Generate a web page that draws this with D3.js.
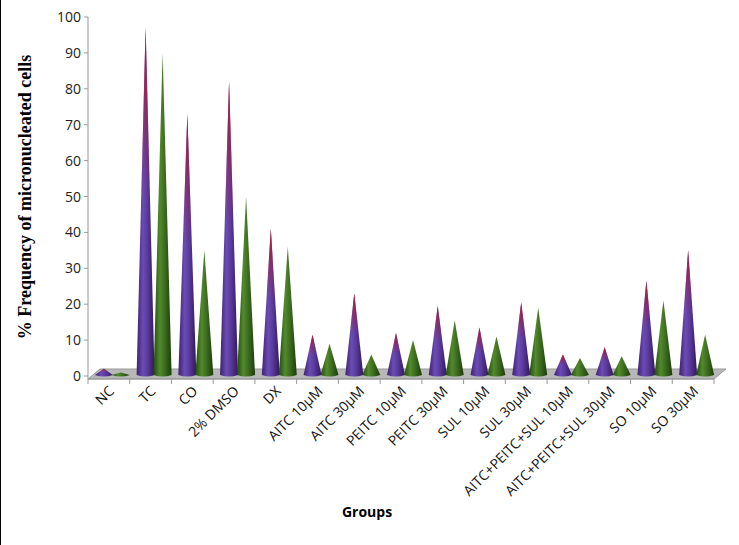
<!DOCTYPE html>
<html><head><meta charset="utf-8">
<script src="https://cdn.jsdelivr.net/npm/d3@7"></script>
<style>body{margin:0;background:#fff}</style></head>
<body><svg id="c" width="739" height="545"></svg>
<script>
const categories=["NC","TC","CO","2% DMSO","DX","AITC 10µM","AITC 30µM","PEITC 10µM","PEITC 30µM","SUL 10µM","SUL 30µM","AITC+PEITC+SUL 10µM","AITC+PEITC+SUL 30µM","SO 10µM","SO 30µM"];
const series1=[2,97,73,82,41,11.5,23,12,19.5,13.5,20.5,6,8,26.5,35];
const series2=[1,90,35,50,36,9,6,10,15.5,11,19,5,5.5,21,11.5];
const yTicks=[0,10,20,30,40,50,60,70,80,90,100];

const svg=d3.select("#c");
const x=d3.scaleBand().domain(categories).range([88,714]);
const y=d3.scaleLinear().domain([0,100]).range([376,17]);
const defs=svg.append("defs");
function grad(id,stops){const g=defs.append("linearGradient").attr("id",id).attr("x1",0).attr("x2",1);
 stops.forEach(([o,c])=>g.append("stop").attr("offset",o).attr("stop-color",c));}
grad("gp",[[0,"#3e2070"],[0.35,"#6a4cb4"],[0.6,"#5a3a9c"],[1,"#301858"]]);
grad("gg",[[0,"#234a10"],[0.35,"#528a2c"],[0.6,"#3e6e20"],[1,"#1c3c0c"]]);
const gr=defs.append("linearGradient").attr("id","gt").attr("x1",0).attr("x2",0).attr("y1",0).attr("y2",1);
gr.append("stop").attr("offset",0).attr("stop-color","#b01830").attr("stop-opacity",1);
gr.append("stop").attr("offset",0.5).attr("stop-color","#a02040").attr("stop-opacity",0);

svg.append("line").attr("x1",0.5).attr("x2",0.5).attr("y1",0).attr("y2",545).attr("stroke","#000");
svg.append("path").attr("d",`M88,379 L714,379 L726,369 L100,369 Z`).attr("fill","#b8b8b8").attr("stroke","#999");
svg.append("line").attr("x1",88).attr("x2",88).attr("y1",17).attr("y2",379).attr("stroke","#999");
yTicks.forEach(t=>{
 svg.append("line").attr("x1",84).attr("x2",88).attr("y1",y(t)).attr("y2",y(t)).attr("stroke","#999");
 svg.append("text").attr("x",81).attr("y",y(t)+5).attr("text-anchor","end").attr("font-family","Open Sans, sans-serif").attr("font-size",14).attr("fill","#222").text(t);
});
svg.append("line").attr("x1",88).attr("x2",714).attr("y1",379).attr("y2",379).attr("stroke","#999");
categories.concat([null]).forEach((c,i)=>{const xx=88+i*x.bandwidth();
 svg.append("line").attr("x1",xx).attr("x2",xx).attr("y1",379).attr("y2",384).attr("stroke","#999");});
const hw=9;
function cone(cx,v,fill){
 const base=375,top=y(v);
 svg.append("path").attr("d",`M${cx-hw},${base} L${cx},${top} L${cx+hw},${base} Q${cx},${base+3} ${cx-hw},${base} Z`).attr("fill",fill);
}
categories.forEach((c,i)=>{
 const cx=x(c)+x.bandwidth()/2+4;
 cone(cx-9,series1[i],"url(#gp)");
 const top=y(series1[i]);
 svg.append("path").attr("d",`M${cx-9-hw},375 L${cx-9},${top} L${cx-9+hw},375 Z`).attr("fill","url(#gt)");
 cone(cx+8,series2[i],"url(#gg)");
});
categories.forEach(c=>{
 const cx=x(c)+x.bandwidth()/2+6;
 svg.append("text").attr("transform",`translate(${cx},392) rotate(-45)`).attr("text-anchor","end")
 .attr("font-family","Open Sans, sans-serif").attr("font-size",14).attr("fill","#111").text(c);
});
svg.append("text").attr("x",367).attr("y",517).attr("text-anchor","middle").attr("font-family","Open Sans, sans-serif").attr("font-weight","bold").attr("font-size",14).text("Groups");
svg.append("text").attr("transform","translate(31,197) rotate(-90)").attr("text-anchor","middle").attr("font-family","Liberation Serif, serif").attr("font-weight","bold").attr("font-size",18).text("% Frequency of micronucleated cells");
</script></body></html>
